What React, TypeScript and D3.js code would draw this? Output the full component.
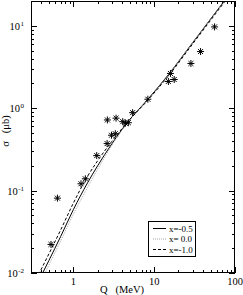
import React from 'react';
import * as d3 from 'd3';

const W = 243;
const H = 295;
const M = { left: 31, right: 235, top: 1, bottom: 273 };

// model curves
const curveQ = [0.35, 0.5, 0.7, 1, 1.5, 2, 3, 5, 8, 15, 30, 80];
const sigmaM05 = [0.00706, 0.0142, 0.0279, 0.0585, 0.124, 0.2, 0.37, 0.73, 1.22, 2.55, 6.25, 22.3];
const sigma00 = [0.00621, 0.0125, 0.0246, 0.0515, 0.109, 0.182, 0.353, 0.723, 1.2, 2.51, 6.16, 22.0];
const sigmaM10 = [0.00849, 0.0171, 0.0335, 0.0702, 0.149, 0.23, 0.396, 0.73, 1.195, 2.46, 6.03, 21.5];

// measured points
const expQ = [0.53, 0.637, 1.245, 1.41, 1.95, 2.62, 2.64, 2.97, 3.31, 3.38, 4.09, 4.41, 4.8, 5.42, 8.36, 15.0, 15.9, 17.7, 28.5, 37.5, 55.9];
const expSigma = [0.0222, 0.081, 0.121, 0.139, 0.266, 0.372, 0.72, 0.47, 0.49, 0.757, 0.687, 0.658, 0.667, 0.883, 1.285, 2.11, 2.64, 2.23, 3.49, 4.87, 9.7];

const xTickLabels = ['1', '10', '100'];
const yTickExp = ['-2', '-1', '0', '1'];

const legendLabels = ['x=-0.5', 'x= 0.0', 'x=-1.0'];
const seriesList = [sigmaM05, sigma00, sigmaM10];
const seriesStyle = [
  { stroke: '#000', dash: undefined, width: 1 },
  { stroke: '#aaa', dash: '1,1', width: 1 },
  { stroke: '#000', dash: '3,2', width: 1 },
];

const font = '"Liberation Serif", "DejaVu Serif", serif';

export default function App() {
  const x = d3.scaleLog().domain([0.3, 100]).range([M.left, M.right]);
  const y = d3.scaleLog().domain([0.01, 20]).range([M.bottom, M.top]);

  const isMajor = (v: number) => Math.abs(Math.log10(v) - Math.round(Math.log10(v))) < 1e-6;
  const xTicks = x.ticks();
  const yTicks = y.ticks();

  const line = d3
    .line<number>()
    .x((_, i) => x(curveQ[i]))
    .y((d) => y(d))
    .curve(d3.curveMonotoneX);

  const star = (cx: number, cy: number, r = 3.5) => {
    const d = r * Math.SQRT1_2;
    return `M${cx - r},${cy}L${cx + r},${cy}M${cx},${cy - r}L${cx},${cy + r}` +
      `M${cx - d},${cy - d}L${cx + d},${cy + d}M${cx - d},${cy + d}L${cx + d},${cy - d}`;
  };

  const pw = M.right - M.left;
  const ph = M.bottom - M.top;

  return (
    <svg width={W} height={H} style={{ position: 'absolute', left: 0, top: 0, background: '#fff' }} fontFamily={font}>
      <defs>
        <clipPath id="plot">
          <rect x={M.left} y={M.top} width={pw} height={ph} />
        </clipPath>
      </defs>
      <rect width={W} height={H} fill="#fff" />

      {/* ticks on all four sides */}
      <g stroke="#000" strokeWidth={1}>
        {xTicks.map((t, i) => {
          const len = isMajor(t) ? 6 : 3;
          const px = Math.round(x(t)) + 0.5;
          return (
            <g key={'x' + i}>
              <line x1={px} x2={px} y1={M.bottom} y2={M.bottom - len} />
              <line x1={px} x2={px} y1={M.top} y2={M.top + len} />
            </g>
          );
        })}
        {yTicks.map((t, i) => {
          const len = isMajor(t) ? 6 : 3;
          const py = Math.round(y(t)) + 0.5;
          return (
            <g key={'y' + i}>
              <line x1={M.left} x2={M.left + len} y1={py} y2={py} />
              <line x1={M.right} x2={M.right - len} y1={py} y2={py} />
            </g>
          );
        })}
      </g>

      {/* curves */}
      <g clipPath="url(#plot)" fill="none">
        {seriesList.map((s, i) => (
          <path
            key={i}
            d={line(s) || ''}
            stroke={seriesStyle[i].stroke}
            strokeWidth={seriesStyle[i].width}
            strokeDasharray={seriesStyle[i].dash}
          />
        ))}
      </g>

      {/* data */}
      <g stroke="#000" strokeWidth={1} fill="none">
        {expQ.map((q, i) => (
          <path key={i} d={star(x(q), y(expSigma[i]))} />
        ))}
      </g>

      <rect x={M.left + 0.5} y={M.top + 0.5} width={pw - 1} height={ph - 1} fill="none" stroke="#000" strokeWidth={1} />

      {/* x tick labels */}
      <g fontSize={10.5} textAnchor="middle" fill="#000">
        {[1, 10, 100].map((v, i) => (
          <text key={i} x={x(v)} y={285}>{xTickLabels[i]}</text>
        ))}
      </g>
      {/* y tick labels */}
      <g fontSize={10.5} textAnchor="end" fill="#000">
        {[0.01, 0.1, 1, 10].map((v, i) => (
          <text key={i} x={24} y={y(v) + 4}>
            10
            <tspan fontSize={7} dy={-4} dx={0.5}>{yTickExp[i]}</tspan>
          </text>
        ))}
      </g>

      <text x={122} y={293} fontSize={10.5} textAnchor="middle">{'Q\u00a0\u00a0\u00a0(MeV)'}</text>
      <text transform="translate(9,131) rotate(-90)" fontSize={10.5} textAnchor="middle">{'\u03c3\u00a0\u00a0\u00a0(\u03bcb)'}</text>

      {/* legend */}
      <rect x={148.5} y={221.5} width={47} height={35} fill="#fff" stroke="#000" strokeWidth={1} />
      {legendLabels.map((lab, i) => {
        const ly = 228.5 + i * 10.5;
        return (
          <g key={i}>
            <line x1={153} x2={166} y1={ly} y2={ly} stroke={seriesStyle[i].stroke} strokeWidth={1} strokeDasharray={seriesStyle[i].dash} />
            <text x={169} y={ly + 3} fontSize={9}>{lab}</text>
          </g>
        );
      })}
    </svg>
  );
}
